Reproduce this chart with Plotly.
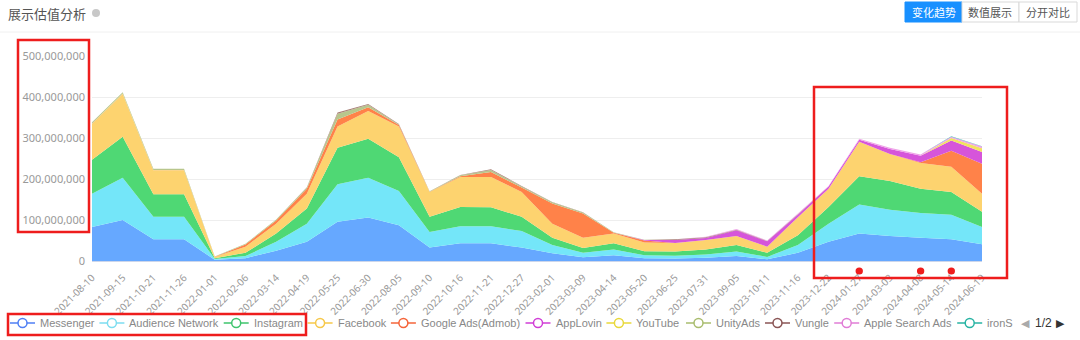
import plotly.graph_objects as go

dates = ["2021-08-10", "2021-09-15", "2021-10-21", "2021-11-26", "2022-01-01", "2022-02-06",
         "2022-03-14", "2022-04-19", "2022-05-25", "2022-06-30", "2022-08-05", "2022-09-10",
         "2022-10-16", "2022-11-21", "2022-12-27", "2023-02-01", "2023-03-09", "2023-04-14",
         "2023-05-20", "2023-06-25", "2023-07-31", "2023-09-05", "2023-10-11", "2023-11-16",
         "2023-12-22", "2024-01-27", "2024-03-03", "2024-04-08", "2024-05-14", "2024-06-19"]

messenger = [83e6, 100e6, 53e6, 53e6, 3e6, 7e6, 25e6, 47e6, 96e6, 106e6, 87e6, 33e6, 43e6, 43e6, 33e6,
             19e6, 9e6, 14e6, 7e6, 6e6, 8e6, 12e6, 4e6, 20e6, 47e6, 67e6, 61e6, 57e6, 53e6, 41e6]
audience_network = [81e6, 103e6, 55e6, 55e6, 2e6, 5e6, 22e6, 44e6, 91e6, 97e6, 84e6, 38e6, 42e6, 42e6, 40e6,
                    20e6, 11e6, 14e6, 7e6, 7e6, 8e6, 11e6, 6e6, 19e6, 44e6, 71e6, 64e6, 60e6, 60e6, 42e6]
instagram = [83e6, 100e6, 55e6, 55e6, 2e6, 8e6, 20e6, 37e6, 89e6, 95e6, 82e6, 37e6, 47e6, 46e6, 35e6,
             18e6, 12e6, 15e6, 10e6, 10e6, 12e6, 16e6, 10e6, 24e6, 41e6, 69e6, 70e6, 59e6, 55e6, 37e6]
facebook = [87e6, 104e6, 58e6, 58e6, 3e6, 15e6, 24e6, 36e6, 52e6, 68e6, 75e6, 60e6, 73e6, 74e6, 60e6,
            34e6, 25e6, 24e6, 21e6, 21e6, 23e6, 22e6, 15e6, 44e6, 44e6, 84e6, 66e6, 63e6, 62e6, 44e6]
google_ads = [0.5e6, 0.5e6, 0.3e6, 0.3e6, 0.2e6, 5e6, 8e6, 12e6, 17e6, 9e6, 4e6, 1e6, 2e6, 12e6, 11e6,
              49e6, 59e6, 2e6, 5e6, 0, 0, 0, 0, 0, 0, 0, 0, 2e6, 39e6, 73e6]
applovin = [0, 0, 0, 0, 0, 0, 0, 0, 0, 0, 0, 0, 0, 0, 0,
            0, 0, 0, 1e6, 7e6, 5e6, 14e6, 13e6, 6e6, 6e6, 5e6, 12e6, 16e6, 25e6, 29e6]
youtube = [1e6, 1e6, 0.5e6, 0.5e6, 0, 0, 0, 0, 0, 0, 0, 0, 0, 0, 0,
           0, 0, 0, 0, 0, 0, 0, 0, 0, 0, 0, 0, 0, 6e6, 9e6]
unityads = [3e6, 3e6, 3e6, 3e6, 1e6, 2e6, 2e6, 3e6, 14e6, 6e6, 1e6, 1e6, 2e6, 5e6, 3e6,
            3e6, 2e6, 1e6, 1e6, 0, 0, 0, 0, 0, 0, 0, 0, 0, 0, 0]
vungle = [0, 0, 0, 0, 0, 0, 0, 1e6, 3e6, 2e6, 1e6, 0, 1e6, 2e6, 1e6,
          1e6, 1e6, 0, 0, 2e6, 2e6, 1e6, 1e6, 1e6, 0, 0, 0, 0, 0, 0]
apple_search_ads = [0, 0, 0, 0, 0, 0, 0, 0, 0, 0, 0, 0, 0, 0, 0,
                    0, 0, 0, 0, 0, 1e6, 2e6, 1e6, 2e6, 1e6, 2e6, 3e6, 3e6, 3e6, 4e6]
ironsource = [0, 0, 0, 0, 0, 0, 0, 0, 0, 0, 0, 0, 0, 0, 0,
              0, 0, 0, 0, 0, 0, 0, 0, 0, 0, 0, 0, 0, 1e6, 1e6]

series_names = ["Messenger", "Audience Network", "Instagram", "Facebook", "Google Ads(Admob)",
                "AppLovin", "YouTube", "UnityAds", "Vungle", "Apple Search Ads", "ironSource"]
series_values = [messenger, audience_network, instagram, facebook, google_ads,
                 applovin, youtube, unityads, vungle, apple_search_ads, ironsource]
fill_colors = ["#66A8FF", "#74E6F9", "#4FD874", "#FDD36F", "#FF8249", "#D655DA",
               "#F2E35F", "#B8C68C", "#A77D74", "#EFA3E8", "#3DBFB0"]
line_colors = ["#4F7FF5", "#7DDDF0", "#3EC46D", "#F6C84A", "#F5653A", "#D03ED6",
               "#E8D83A", "#A9BC6E", "#8A5555", "#E07CD6", "#27B3A3"]
tick_values = [0, 100e6, 200e6, 300e6, 400e6, 500e6]

W, H = 1080, 340
L, R, T, B = 92, 98, 56, 79
PW, PH = W - L - R, H - T - B


def px(x):
    return (x - L) / PW


def py(y):
    return (H - B - y) / PH


fig = go.Figure()
for name, vals, fc in zip(series_names, series_values, fill_colors):
    fig.add_trace(go.Scatter(x=dates, y=vals, name=name, stackgroup="one", mode="none",
                             fillcolor=fc, showlegend=False))

shapes = []
annotations = []
FONT = "Noto Sans, Noto Sans CJK SC, sans-serif"
LFONT = "Liberation Sans, Arial, sans-serif"

# header
annotations.append(dict(text="展示估值分析", x=px(6), y=py(13), xref="paper", yref="paper",
                        xanchor="left", yanchor="middle", showarrow=False,
                        font=dict(family="Noto Sans CJK SC", size=13, color="#555")))
shapes.append(dict(type="circle", xref="paper", yref="paper", x0=px(92), x1=px(100),
                   y0=py(17), y1=py(9), fillcolor="#C8C8C8", line=dict(width=0)))
shapes.append(dict(type="line", xref="paper", yref="paper", x0=px(0), x1=px(1080),
                   y0=py(32), y1=py(32), line=dict(color="#F0F0F0", width=1)))
buttons = [("变化趋势", 905, 962, True), ("数值展示", 962, 1019, False), ("分开对比", 1019, 1077, False)]
for label, x0, x1, active in buttons:
    shapes.append(dict(type="rect", xref="paper", yref="paper", x0=px(x0), x1=px(x1),
                       y0=py(22), y1=py(2),
                       fillcolor="#1890FF" if active else "#FFFFFF",
                       line=dict(color="#1890FF" if active else "#D9D9D9", width=1)))
    annotations.append(dict(text=label, x=px((x0 + x1) / 2), y=py(12), xref="paper", yref="paper",
                            xanchor="center", yanchor="middle", showarrow=False,
                            font=dict(family="Noto Sans CJK SC", size=11,
                                      color="#FFFFFF" if active else "#555555")))

# legend (drawn manually to mimic the scrolling legend)
legend_icon_x = [10, 99.4, 223.7, 307.6, 390.9, 525.5, 606.4, 686, 765, 834.2, 957.2]
LY = 323
for name, lc, ix in zip(series_names, line_colors, legend_icon_x):
    shapes.append(dict(type="line", xref="paper", yref="paper", x0=px(ix), x1=px(ix + 25),
                       y0=py(LY), y1=py(LY), line=dict(color=lc, width=1.5)))
    shapes.append(dict(type="circle", xref="paper", yref="paper", x0=px(ix + 8), x1=px(ix + 17),
                       y0=py(LY + 4.5), y1=py(LY - 4.5), fillcolor="#FFFFFF", line=dict(color=lc, width=1.5)))
    label = name if name != "ironSource" else name[:5]
    annotations.append(dict(text=label, x=px(ix + 28), y=py(LY), xref="paper", yref="paper",
                            xanchor="left", yanchor="middle", showarrow=False,
                            font=dict(family=LFONT, size=11, color="#888888")))
annotations.append(dict(text="◀", x=px(1019), y=py(LY), xref="paper", yref="paper", xanchor="left",
                        yanchor="middle", showarrow=False, font=dict(family="DejaVu Sans", size=11, color="#AAAAAA")))
annotations.append(dict(text="1/2", x=px(1033), y=py(LY), xref="paper", yref="paper", xanchor="left",
                        yanchor="middle", showarrow=False, font=dict(family=LFONT, size=12, color="#333333")))
annotations.append(dict(text="▶", x=px(1054), y=py(LY), xref="paper", yref="paper", xanchor="left",
                        yanchor="middle", showarrow=False, font=dict(family="DejaVu Sans", size=11, color="#333333")))

# red highlight boxes
RED = "#EE1D1D"
for x0, y0, x1, y1 in [(18, 40, 89, 232), (814, 87, 1007, 278), (8, 314, 306, 335)]:
    shapes.append(dict(type="rect", xref="paper", yref="paper", x0=px(x0), x1=px(x1),
                       y0=py(y1), y1=py(y0), line=dict(color=RED, width=2.5), fillcolor="rgba(0,0,0,0)"))
for d in ["2024-01-27", "2024-04-08", "2024-05-14"]:
    i = dates.index(d)
    shapes.append(dict(type="circle", xref="x", yref="paper", x0=i - 0.12, x1=i + 0.12,
                       y0=py(274.5), y1=py(267.5), fillcolor=RED, line=dict(width=0)))

fig.update_layout(
    width=W, height=H,
    margin=dict(l=L, r=R, t=T, b=B, pad=0),
    paper_bgcolor="white", plot_bgcolor="white",
    font=dict(family=FONT, color="#999999"),
    showlegend=False,
    shapes=shapes, annotations=annotations,
    xaxis=dict(type="category", range=[0, len(dates) - 1], tickangle=-45, showgrid=False,
               showline=True, linecolor="#CCD6EB", linewidth=1, ticks="", automargin=False,
               tickfont=dict(family=FONT, size=10, color="#999999"), ticklabelstandoff=6),
    yaxis=dict(range=[0, 500e6], tickvals=tick_values, tickformat=",d", showgrid=True,
               gridcolor="#EEEEEE", gridwidth=1, zeroline=False, showline=False, automargin=False,
               tickfont=dict(family=FONT, size=11, color="#999999"), ticklabelstandoff=6),
)

fig.write_html("out.html")
